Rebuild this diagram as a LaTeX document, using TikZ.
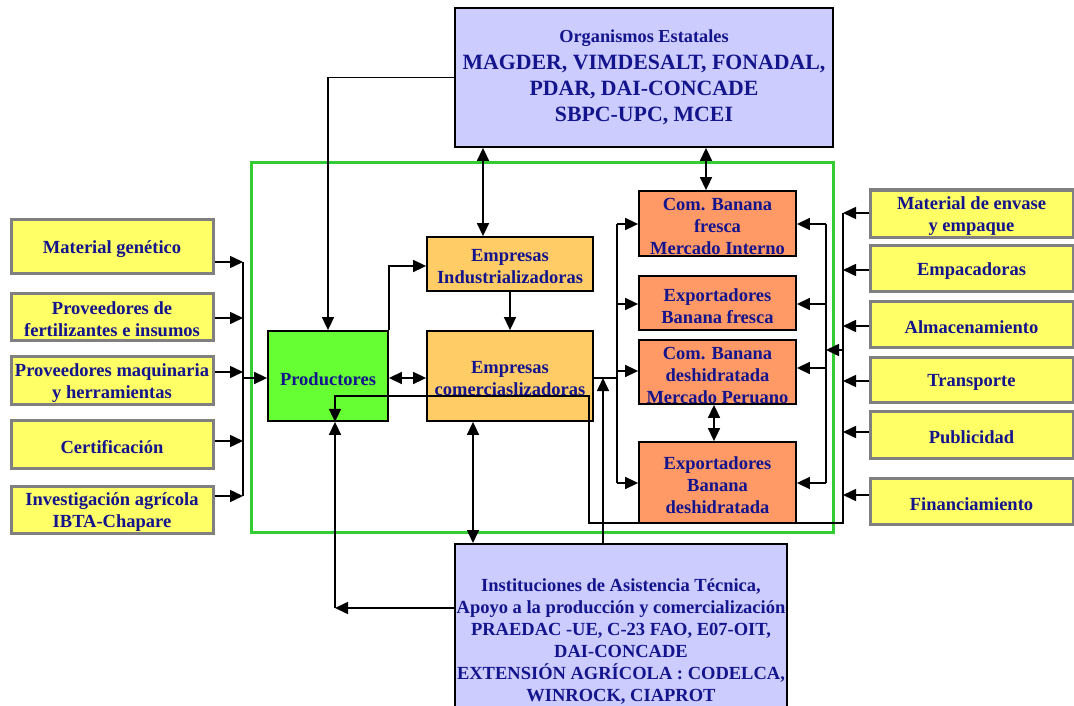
\documentclass[tikz,border=0pt]{standalone}
\usepackage{fontspec}
\setmainfont{Liberation Serif}
\usetikzlibrary{arrows.meta}
\definecolor{navytxt}{RGB}{20,20,140}
\definecolor{lav}{RGB}{204,204,255}
\definecolor{prodgreen}{RGB}{102,255,51}
\definecolor{empfill}{RGB}{255,204,102}
\definecolor{orgfill}{RGB}{255,153,102}
\definecolor{yel}{RGB}{255,255,102}
\definecolor{greyb}{RGB}{128,128,128}
\definecolor{framegreen}{RGB}{51,204,51}
\tikzset{
  blk/.style={align=center, inner sep=0pt, text=navytxt, font=\bfseries\fontsize{18.5}{22}\selectfont},
  ybox/.style={inner sep=0pt, draw=greyb, line width=3pt, fill=yel},
  bbox/.style={inner sep=0pt, draw=black, line width=1.8pt},
  T/.style={label={[blk, yshift=-3pt]center:#1}},
  ln/.style={line width=1.6pt, draw=black},
  arr/.style={ln, -{Triangle[length=13pt,width=12pt]}},
  darr/.style={ln, {Triangle[length=13pt,width=12pt]}-{Triangle[length=13pt,width=12pt]}},
}
\begin{document}
\begin{tikzpicture}[x=1pt,y=-1pt]
\useasboundingbox (0,0) rectangle (1074,706);
\clip (0,0) rectangle (1074,706);
% frame
\draw[framegreen, line width=3pt] (251,163) rectangle (833,532);
% top box
\node[bbox, blk, fill=lav, minimum width=378pt, minimum height=139pt, font=\bfseries\fontsize{21.8}{26}\selectfont] (org) at (644,77.5)
  {{\fontsize{18.3}{20}\selectfont Organismos Estatales}\\[1pt]MAGDER, VIMDESALT, FONADAL,\\PDAR, DAI-CONCADE\\SBPC-UPC, MCEI};
% bottom box
\node[bbox, fill=lav, minimum width=332pt, minimum height=200pt, anchor=north] (inst) at (621,543) {};
\node[blk] (insttxt) at (621,641) {Instituciones de Asistencia Técnica,\\Apoyo a la producción y comercialización\\PRAEDAC -UE, C-23 FAO, E07-OIT,\\DAI-CONCADE\\EXTENSIÓN AGRÍCOLA : CODELCA,\\WINROCK, CIAPROT};
% left yellow boxes
\node[ybox, minimum width=202pt, minimum height=54pt, T={Material genético}] (mg) at (112,246) {};
\node[ybox, minimum width=202pt, minimum height=47pt, T={Proveedores de\\fertilizantes e insumos}] (pf) at (112,316.5) {};
\node[ybox, minimum width=202pt, minimum height=48pt, T={Proveedores maquinaria\\y herramientas}] (pm) at (112,380) {};
\node[ybox, minimum width=202pt, minimum height=48pt, T={Certificación}] (ce) at (112,444) {};
\node[ybox, minimum width=202pt, minimum height=47pt, T={Investigación agrícola\\IBTA-Chapare}] (ia) at (112,509.5) {};
% center boxes
\node[bbox, fill=prodgreen, minimum width=120pt, minimum height=90pt, T={Productores}] (prod) at (328,376) {};
\node[bbox, fill=empfill, minimum width=166pt, minimum height=54pt, T={Empresas\\Industrializadoras}] (ind) at (510,264) {};
\node[bbox, fill=empfill, minimum width=166pt, minimum height=90pt] (com) at (510,376) {};
\node[blk] (comtxt) at (510,378.5) {Empresas\\comerciaslizadoras};
% orange boxes
\node[bbox, fill=orgfill, minimum width=157pt, minimum height=65pt, T={Com. Banana\\fresca\\Mercado Interno}] (cbf) at (717.5,223.5) {};
\node[bbox, fill=orgfill, minimum width=157pt, minimum height=54pt, T={Exportadores\\Banana fresca}] (ebf) at (717.5,303) {};
\node[bbox, fill=orgfill, minimum width=157pt, minimum height=64pt, T={Com. Banana\\deshidratada\\Mercado Peruano}] (cbd) at (717.5,372) {};
\node[bbox, fill=orgfill, minimum width=157pt, minimum height=81pt, T={Exportadores\\Banana\\deshidratada}] (ebd) at (717.5,482.5) {};
% right yellow boxes
\node[ybox, minimum width=203pt, minimum height=47pt, T={Material de envase\\y empaque}] (me) at (971.5,213.5) {};
\node[ybox, minimum width=203pt, minimum height=46pt, T={Empacadoras}] (em) at (971.5,268) {};
\node[ybox, minimum width=203pt, minimum height=46pt, T={Almacenamiento}] (al) at (971.5,324) {};
\node[ybox, minimum width=203pt, minimum height=45pt, T={Transporte}] (tr) at (971.5,379.5) {};
\node[ybox, minimum width=203pt, minimum height=47pt, T={Publicidad}] (pu) at (971.5,434.5) {};
\node[ybox, minimum width=203pt, minimum height=46pt, T={Financiamiento}] (fi) at (971.5,501) {};
% bus coordinates
\coordinate (lbus) at (243,0);
\coordinate (rbus) at (843,0);
\coordinate (ibus) at (826,0);
\coordinate (obus) at (617,0);
\coordinate (jn) at (603,378);
\coordinate (cn) at (335,608);
% left inputs
\draw[arr] (mg.east |- 0,262) -- (lbus |- 0,262);
\draw[arr] (pf.east |- 0,318) -- (lbus |- 0,318);
\draw[arr] (pm.east |- 0,372) -- (lbus |- 0,372);
\draw[arr] (ce.east |- 0,441) -- (lbus |- 0,441);
\draw[arr] (ia.east |- 0,496) -- (lbus |- 0,496);
\draw[ln] (lbus |- 0,262) -- (lbus |- 0,496);
\draw[arr] (lbus |- 0,378) -- (prod.west |- 0,378);
% right inputs
\draw[arr] (me.west |- 0,213) -- (rbus |- 0,213);
\draw[arr] (em.west |- 0,270) -- (rbus |- 0,270);
\draw[arr] (al.west |- 0,326) -- (rbus |- 0,326);
\draw[arr] (tr.west |- 0,381) -- (rbus |- 0,381);
\draw[arr] (pu.west |- 0,432) -- (rbus |- 0,432);
\draw[arr] (fi.west |- 0,495) -- (rbus |- 0,495);
\draw[arr] (rbus |- 0,213) -- (rbus |- 0,523) -| (589,396) -| (prod.south -| 335,0);
\draw[arr] (rbus |- 0,350) -- (ibus |- 0,350);
\draw[ln] (ibus |- 0,224) -- (ibus |- 0,483);
\draw[arr] (ibus |- 0,224) -- (cbf.east |- 0,224);
\draw[arr] (ibus |- 0,304) -- (ebf.east |- 0,304);
\draw[arr] (ibus |- 0,368) -- (cbd.east |- 0,368);
\draw[arr] (ibus |- 0,483) -- (ebd.east |- 0,483);
% commercial outputs
\draw[ln] (com.east |- 0,378) -- (obus |- 0,378);
\draw[ln] (obus |- 0,224) -- (obus |- 0,483);
\draw[arr] (obus |- 0,224) -- (cbf.west |- 0,224);
\draw[arr] (obus |- 0,304) -- (ebf.west |- 0,304);
\draw[arr] (obus |- 0,371) -- (cbd.west |- 0,371);
\draw[arr] (obus |- 0,483) -- (ebd.west |- 0,483);
\draw[darr] (cbd.south -| 714,0) -- (ebd.north -| 714,0);
% institutions
\draw[arr] (inst.north -| jn) -- (jn);
\draw[darr] (com.south -| 473,0) -- (inst.north -| 473,0);
\draw[arr] (inst.west |- cn) -- (cn);
\draw[arr] (cn) -- (prod.south -| cn);
% producers
\draw[darr] (prod.east |- 0,378) -- (com.west |- 0,378);
\draw[arr] (prod.north east) |- (ind.west |- 0,266);
\draw[arr] (ind.south) -- (com.north);
% state bodies
\draw[arr] (org.west) -| (prod.north);
\draw[darr] (org.south -| 483,0) -- (ind.north -| 483,0);
\draw[darr] (org.south -| 706,0) -- (cbf.north -| 706,0);
\end{tikzpicture}
\end{document}
